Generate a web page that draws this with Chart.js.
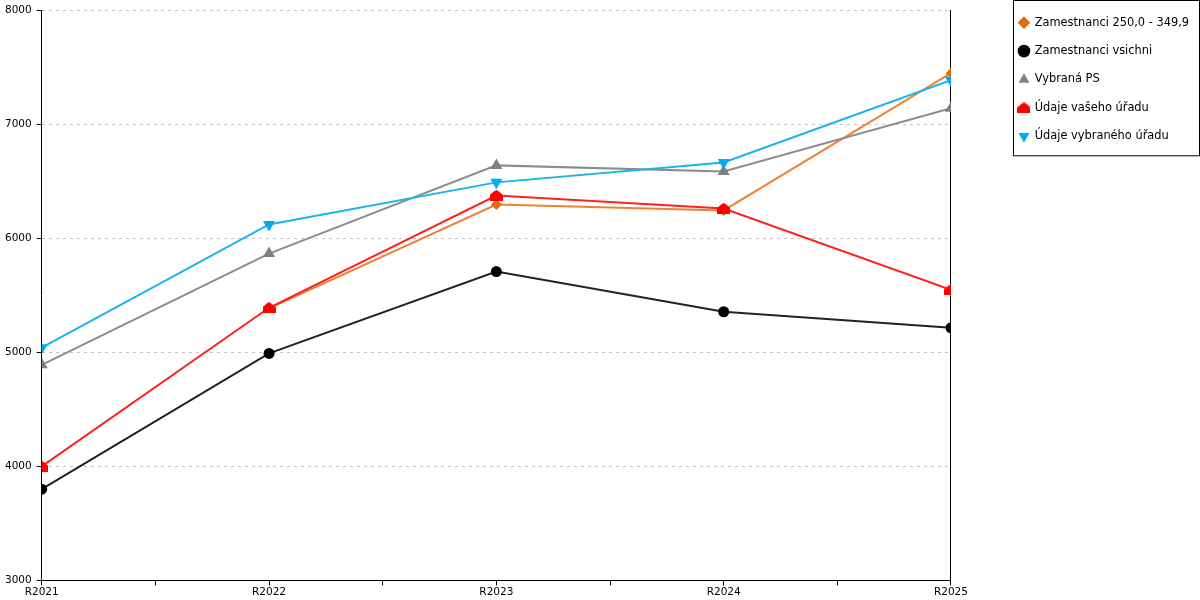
<!DOCTYPE html>
<html>
<head>
<meta charset="utf-8">
<script src="https://cdn.jsdelivr.net/npm/chart.js@4"></script>
<style>
  html, body { margin: 0; padding: 0; background: #fff; }
  #wrap { width: 1200px; height: 600px; }
</style>
</head>
<body>
<div id="wrap"><canvas id="myChart"></canvas></div>
<script>
const categories = ['R2021', 'R2022', 'R2023', 'R2024', 'R2025'];
const zam250 = [null, 5385, 6295, 6243, 7446];
const zamVsichni = [3800, 4990, 5707, 5355, 5214];
const vybranaPS = [4890, 5865, 6638, 6585, 7139];
const vasUrad = [4000, 5390, 6374, 6260, 5548];
const vybranyUrad = [5040, 6120, 6489, 6664, 7385];
const yTicks = [3000, 4000, 5000, 6000, 7000, 8000];

// red "house" marker
const house = document.createElement('canvas');
house.width = 13; house.height = 11;
const hctx = house.getContext('2d');
hctx.fillStyle = '#ff0000';
hctx.beginPath();
hctx.moveTo(0, 11);
hctx.lineTo(0, 5);
hctx.quadraticCurveTo(4, 1, 6.5, 0);
hctx.quadraticCurveTo(9, 1, 13, 5);
hctx.lineTo(13, 11);
hctx.closePath();
hctx.fill();

const toPts = arr => arr.map((v, i) => ({ x: i, y: v }));

const series = [
  { label: 'Zamestnanci 250,0 - 349,9', data: zam250, line: '#ee8233', point: '#e06c0f', style: 'rectRot', r: 5.5 },
  { label: 'Zamestnanci vsichni', data: zamVsichni, line: '#222222', point: '#000000', style: 'circle', r: 5.5 },
  { label: 'Vybraná PS', data: vybranaPS, line: '#8c8c8c', point: '#808080', style: 'triangle', r: 7 },
  { label: 'Údaje vašeho úřadu', data: vasUrad, line: '#ff2020', point: '#ff0000', style: house, r: 6 },
  { label: 'Údaje vybraného úřadu', data: vybranyUrad, line: '#1ab4ec', point: '#00aeef', style: 'triangle', r: 7, rot: 180 },
];

const legendBox = {
  id: 'legendBox',
  afterDraw(chart) {
    const lg = chart.legend;
    if (!lg || !lg.legendHitBoxes.length) return;
    const boxes = lg.legendHitBoxes;
    const first = boxes[0];
    const last = boxes[boxes.length - 1];
    const left = first.left - 5.5;
    const right = chart.width - 0.5;
    const c = chart.ctx;
    c.save();
    c.strokeStyle = '#000';
    c.lineWidth = 1;
    c.strokeRect(left, 0.5, right - left, last.top + last.height / 2 + 19);
    c.restore();
  }
};

const ctx = document.getElementById('myChart');

new Chart(ctx, {
  type: 'line',
  data: {
    datasets: series.map((s, i) => ({
      label: s.label,
      data: toPts(s.data),
      borderColor: s.line,
      backgroundColor: s.point,
      pointBackgroundColor: s.point,
      pointBorderColor: s.point,
      pointBorderWidth: 0,
      pointStyle: s.style,
      pointRadius: s.r,
      pointHoverRadius: s.r,
      rotation: s.rot || 0,
      borderWidth: 2,
      tension: 0,
      order: 4 - i
    }))
  },
  plugins: [legendBox],
  options: {
    responsive: true,
    maintainAspectRatio: false,
    animation: false,
    layout: { padding: { left: 0, right: 1, top: 0, bottom: 0 } },
    plugins: {
      tooltip: { enabled: false },
      legend: {
        position: 'right',
        align: 'start',
        labels: {
          usePointStyle: true,
          boxWidth: 10,
          boxHeight: 9,
          padding: 17,
          color: '#000',
          font: { family: 'DejaVu Sans', size: 11.4 },
          sort: (a, b) => a.datasetIndex - b.datasetIndex
        }
      }
    },
    scales: {
      x: {
        type: 'linear',
        min: 0,
        max: categories.length - 1,
        afterBuildTicks: axis => {
          const t = [];
          for (let v = 0; v <= categories.length - 1; v += 0.5) t.push({ value: v });
          axis.ticks = t;
        },
        ticks: {
          autoSkip: false,
          maxRotation: 0,
          padding: 1,
          color: '#000',
          font: { family: 'DejaVu Sans', size: 10.5 },
          callback: v => Number.isInteger(v) ? categories[v] : ''
        },
        grid: { drawOnChartArea: false, drawTicks: true, tickLength: 5, tickColor: '#000' },
        border: { color: '#000', width: 1 }
      },
      y: {
        min: yTicks[0],
        max: yTicks[yTicks.length - 1],
        afterBuildTicks: axis => { axis.ticks = yTicks.map(v => ({ value: v })); },
        afterFit: axis => { axis.paddingTop = 10; },
        ticks: {
          padding: 5,
          color: '#000',
          font: { family: 'DejaVu Sans', size: 10.5 },
          callback: v => String(v)
        },
        grid: {
          color: '#c4c4c4',
          tickLength: 5,
          tickColor: '#000',
          tickBorderDash: []
        },
        border: { color: '#000', width: 1, dash: [3, 4] }
      },
      y1: {
        position: 'right',
        min: yTicks[0],
        max: yTicks[yTicks.length - 1],
        ticks: { display: false },
        grid: { display: false, drawTicks: false },
        border: { color: '#000', width: 1 },
        afterFit: axis => { axis.width = 51; }
      }
    }
  }
});
</script>
</body>
</html>
